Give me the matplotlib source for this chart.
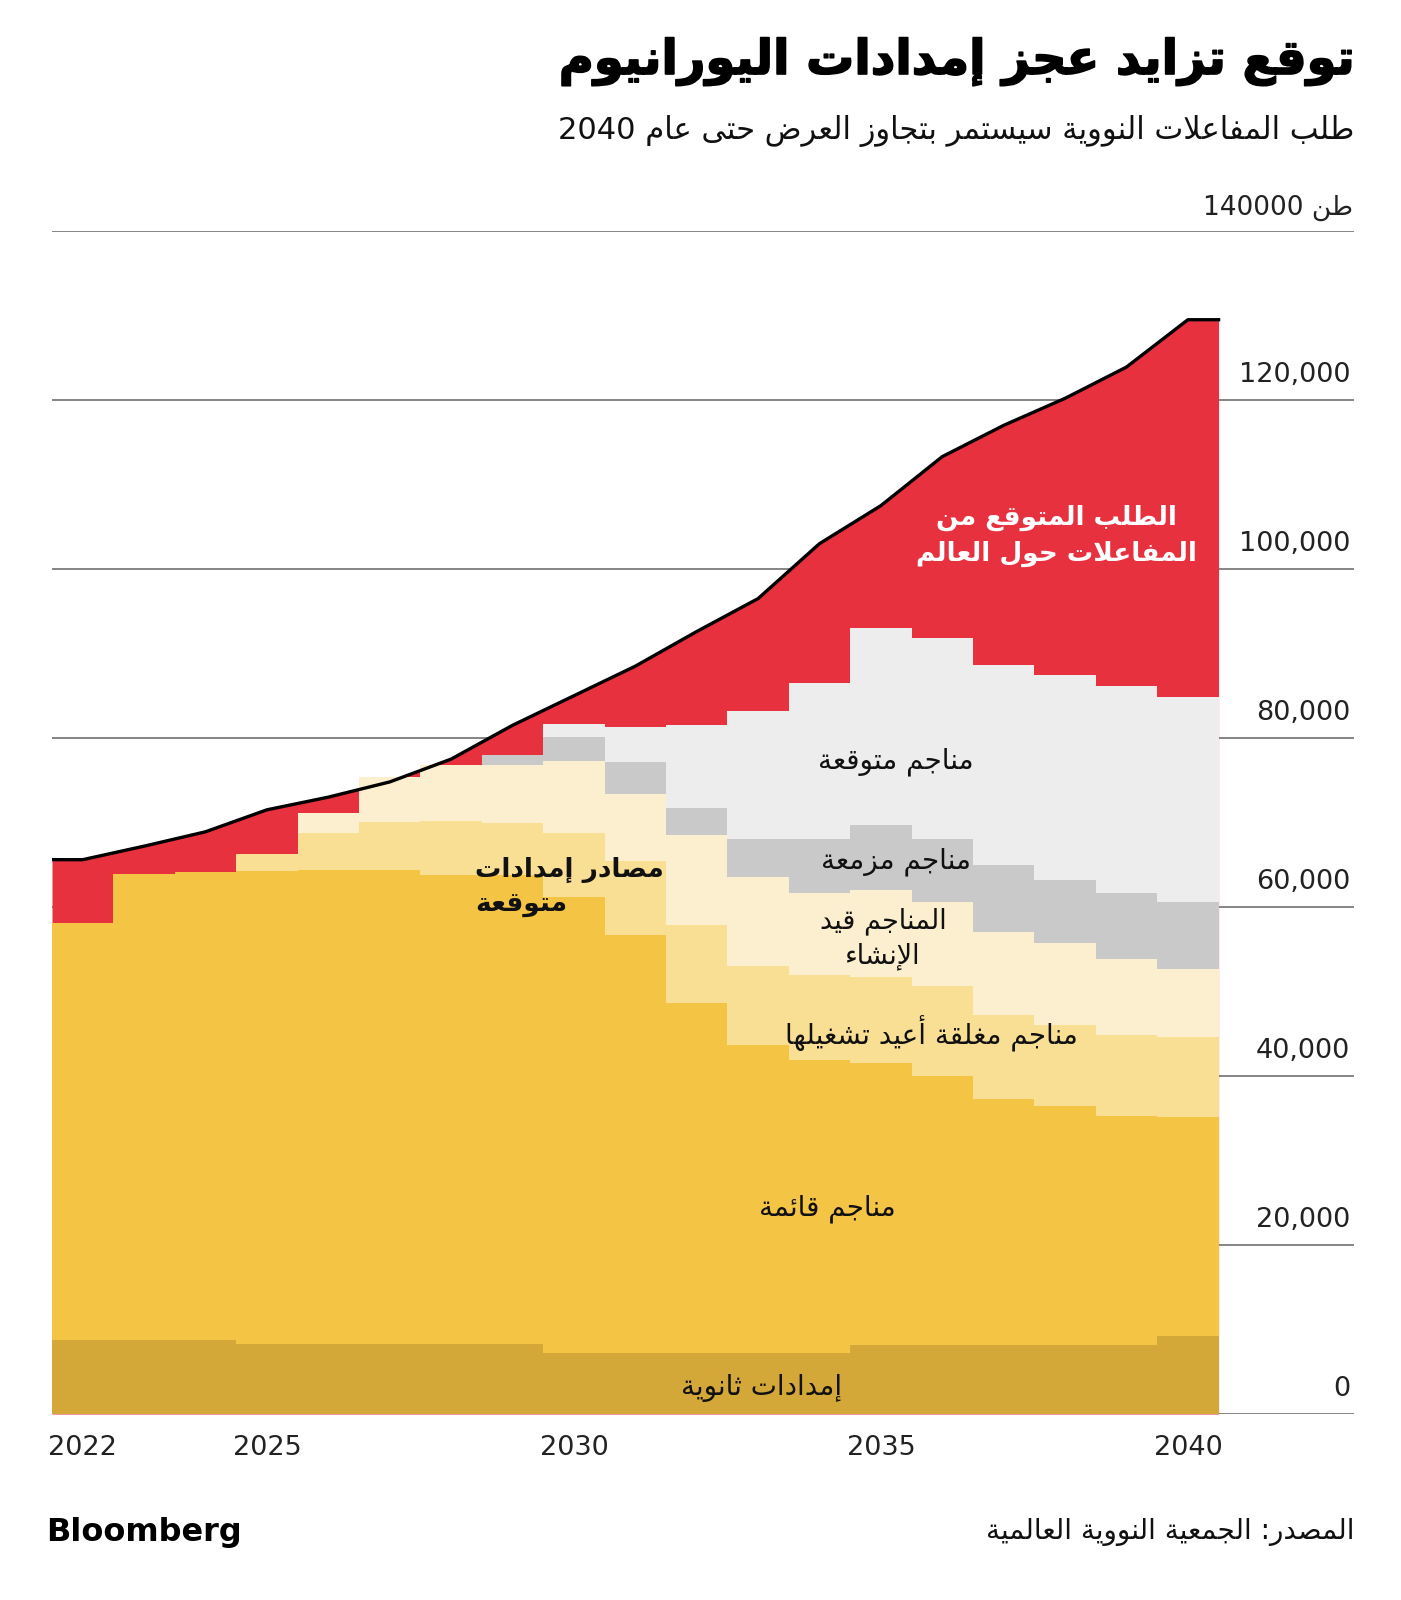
"""Uranium supply gap chart (Bloomberg style, Arabic labels)."""
import re

import matplotlib
matplotlib.use("Agg")
import matplotlib.pyplot as plt
import matplotlib.patheffects as pe
import numpy as np

# ---- data (tonnes of uranium) ----
years = list(range(2022, 2041))
secondary = [8800, 8800, 8800, 8300, 8300, 8300, 8300, 8300, 7200, 7200,
             7200, 7200, 7200, 8200, 8200, 8200, 8200, 8200, 9200]
existing = [49300, 55100, 55400, 56000, 56100, 56100, 55500, 55500, 54000, 49500,
            41400, 36500, 34700, 33300, 31800, 29100, 28300, 27100, 25900]
restarted = [0, 0, 0, 2000, 4300, 5700, 6400, 6100, 7500, 8800,
             9300, 9300, 10000, 10200, 10700, 9900, 9500, 9600, 9500]
construction = [0, 0, 0, 0, 2400, 5300, 6600, 6900, 8600, 7900,
                10600, 10600, 9700, 10300, 9900, 9900, 9700, 9000, 8100]
planned = [0, 0, 0, 0, 0, 0, 0, 1200, 2800, 3800,
           3200, 4500, 6500, 7700, 7500, 7900, 7500, 7700, 7900]
prospective = [0, 0, 0, 0, 0, 0, 0, 0, 1600, 4100,
               9800, 15100, 18400, 23300, 23700, 23600, 24300, 24500, 24300]
demand = [65600, 67200, 68900, 71500, 73000, 74800, 77500, 81500, 85000, 88500,
          92600, 96500, 103000, 107500, 113300, 117000, 120200, 123900, 129500]

layer_colors = ["#D3A838", "#F4C444", "#F8DF93", "#FCEFCF", "#C9C9C9", "#EDEDED"]
RED = "#E8313F"

x_ticks = [2022, 2025, 2030, 2035, 2040]
y_ticks = [0, 20000, 40000, 60000, 80000, 100000, 120000]

title = "توقع تزايد عجز إمدادات اليورانيوم"
subtitle = "طلب المفاعلات النووية سيستمر بتجاوز العرض حتى عام 2040"
unit_label = "طن 140000"
source = "المصدر: الجمعية النووية العالمية"


# ---- minimal Arabic shaping (matplotlib has no complex text layout) ----
FOUR = {"\u0626": 0xFE89, "\u0628": 0xFE8F, "\u062A": 0xFE95, "\u062B": 0xFE99,
        "\u062C": 0xFE9D, "\u062D": 0xFEA1, "\u062E": 0xFEA5, "\u0633": 0xFEB1,
        "\u0634": 0xFEB5, "\u0635": 0xFEB9, "\u0636": 0xFEBD, "\u0637": 0xFEC1,
        "\u0638": 0xFEC5, "\u0639": 0xFEC9, "\u063A": 0xFECD, "\u0641": 0xFED1,
        "\u0642": 0xFED5, "\u0643": 0xFED9, "\u0644": 0xFEDD, "\u0645": 0xFEE1,
        "\u0646": 0xFEE5, "\u0647": 0xFEE9, "\u064A": 0xFEF1}
TWO = {"\u0622": 0xFE81, "\u0623": 0xFE83, "\u0624": 0xFE85, "\u0625": 0xFE87,
       "\u0627": 0xFE8D, "\u0629": 0xFE93, "\u062F": 0xFEA9, "\u0630": 0xFEAB,
       "\u0631": 0xFEAD, "\u0632": 0xFEAF, "\u0648": 0xFEED, "\u0649": 0xFEEF}
ONE = {"\u0621": 0xFE80}
LAM_ALEF = {"\u0622": 0xFEF5, "\u0623": 0xFEF7, "\u0625": 0xFEF9, "\u0627": 0xFEFB}


def ar(text):
    """Shape Arabic letters and return them in visual (left-to-right) order."""
    out = []
    i, n = 0, len(text)
    while i < n:
        c = text[i]
        if c not in FOUR and c not in TWO and c not in ONE:
            out.append(c)
            i += 1
            continue
        prev_joins = i > 0 and text[i - 1] in FOUR
        if c == "\u0644" and i + 1 < n and text[i + 1] in LAM_ALEF:
            base = LAM_ALEF[text[i + 1]]
            out.append(chr(base + 1 if prev_joins else base))
            i += 2
            continue
        nxt = text[i + 1] if i + 1 < n else None
        next_joins = nxt in FOUR or nxt in TWO
        if c in FOUR:
            base = FOUR[c]
            form = 3 if (prev_joins and next_joins) else 1 if prev_joins else 2 if next_joins else 0
        elif c in TWO:
            base = TWO[c]
            form = 1 if prev_joins else 0
        else:
            base, form = ONE[c], 0
        out.append(chr(base + form))
        i += 1
    vis = "".join(out)[::-1]
    return re.sub(r"[0-9A-Za-z,.]+", lambda m: m.group(0)[::-1], vis)


W, H = 1401, 1600
fig = plt.figure(figsize=(W / 100, H / 100), dpi=100)
plt.rcParams["font.family"] = ["DejaVu Sans"]


def px(x, y):
    """Pixel position (from top-left) to figure fraction."""
    return x / W, 1 - y / H


# plot area: x 52..1354 px, y 231..1414 px
x_left, x_right, y_top, y_bot = 52, 1354, 231, 1414
ax = fig.add_axes([x_left / W, 1 - y_bot / H, (x_right - x_left) / W, (y_bot - y_top) / H])
year_px = 61.4
ax.set_xlim(2021.5, 2021.5 + (x_right - x_left) / year_px)
ax.set_ylim(0, 140000)

for v in y_ticks + [140000]:
    ax.axhline(v, color="#7C7C7C", lw=1.3, zorder=0)

edges = np.arange(2021.5, 2041.0, 1.0)

# red demand area under the demand line
x_line = [2021.5] + years + [2040.5]
y_line = [demand[0]] + demand + [demand[-1]]
ax.fill_between(x_line, 0, y_line, color=RED, lw=0, zorder=1)

# supply stack, drawn top-down as cumulative stairs to avoid seams
layers = [secondary, existing, restarted, construction, planned, prospective]
cum = np.cumsum(np.array(layers, dtype=float), axis=0)
for k in range(len(layers) - 1, -1, -1):
    ax.stairs(cum[k], edges, baseline=0, fill=True, color=layer_colors[k], lw=0, zorder=2)

ax.plot(x_line, y_line, color="black", lw=2.4, solid_joinstyle="round", zorder=3)

# axes cosmetics
for s in ax.spines.values():
    s.set_visible(False)
ax.set_yticks([])
ax.set_xticks(x_ticks)
ax.set_xticklabels([str(y) for y in x_ticks], fontsize=19.5, color="#222222")
ax.tick_params(axis="x", length=0, pad=15)

xr = ax.get_xlim()[1] - 0.06
for v in y_ticks:
    ax.text(xr, v + 2900, f"{v:,}", ha="right", va="center", fontsize=19.5, color="#222222")
ax.text(xr + 0.05, 140000 + 2700, ar(unit_label), ha="right", va="center", fontsize=19, color="#222222")


# in-chart labels
def label(x, y, s, size=19.5, weight="normal", color="#111111", ha="center"):
    fig.text(*px(x, y), ar(s), ha=ha, va="center", fontsize=size, fontweight=weight, color=color)


label(1056, 518, "الطلب المتوقع من", size=19, weight="bold", color="white")
label(1056, 554, "المفاعلات حول العالم", size=19, weight="bold", color="white")
label(896, 762, "مناجم متوقعة", size=20)
label(896, 862, "مناجم مزمعة", size=20)
label(883, 921, "المناجم قيد")
label(883, 956, "الإنشاء")
label(931, 1034, "مناجم مغلقة أعيد تشغيلها", size=20)
label(827, 1209, "مناجم قائمة", size=20)
label(762, 1388, "إمدادات ثانوية", size=20)
label(475, 870, "مصادر إمدادات", size=19, weight="bold", ha="left")
label(475, 905, "متوقعة", size=19, weight="bold", ha="left")

# titles and footer
t = fig.text(*px(1354, 62), ar(title), ha="right", va="center", fontsize=34.5,
             fontweight="bold", color="black")
t.set_path_effects([pe.withStroke(linewidth=1.2, foreground="black")])
fig.text(*px(1354, 131), ar(subtitle), ha="right", va="center", fontsize=22, color="#111111")
fig.text(*px(46, 1532), "Bloomberg", ha="left", va="center", fontsize=23, fontweight="bold",
         color="black")
fig.text(*px(1354, 1532), ar(source), ha="right", va="center", fontsize=20, color="#111111")

fig.savefig("out.png", dpi=100)
